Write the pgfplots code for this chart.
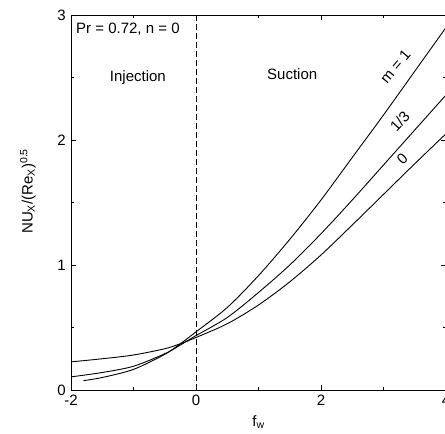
\documentclass[border=0pt]{standalone}
\usepackage{fontspec}
\setmainfont{Liberation Sans}
\usepackage{pgfplots}
\pgfplotsset{compat=1.18}
\newcommand\bigf{\fontsize{15}{18}\selectfont}

% Nu_x/(Re_x)^0.5 against f_w
\pgfplotstableread{
x     y
-1.8  0.075
-1.5  0.100
-1.0  0.165
-0.5  0.285
-0.25 0.370
0.0   0.465
0.5   0.660
1.0   0.915
1.5   1.205
2.0   1.520
2.5   1.860
3.0   2.200
3.5   2.550
4.0   2.900
}\mone
\pgfplotstableread{
x     y
-2.0  0.105
-1.5  0.140
-1.0  0.190
-0.5  0.290
-0.25 0.360
0.0   0.435
0.5   0.580
1.0   0.780
1.5   1.000
2.0   1.250
2.5   1.520
3.0   1.800
3.5   2.080
4.0   2.360
}\mthird
\pgfplotstableread{
x     y
-2.0  0.225
-1.5  0.250
-1.0  0.280
-0.5  0.330
-0.25 0.370
0.0   0.420
0.5   0.530
1.0   0.680
1.5   0.865
2.0   1.080
2.5   1.320
3.0   1.565
3.5   1.810
4.0   2.050
}\mzero

\begin{document}
\bigf
\begin{tikzpicture}[font=\bigf]
\begin{axis}[
    at={(0pt,0pt)}, anchor=south west,
    scale only axis,
    width=375pt, height=375pt,
    xmin=-2, xmax=4, ymin=0, ymax=3,
    xtick={-2,0,2,4}, ytick={0,1,2,3},
    minor xtick={-1,1,3}, minor ytick={0.5,1.5,2.5},
    tick align=inside,
    major tick length=5pt, minor tick length=3pt,
    tick style={black, line width=0.8pt},
    axis line style={line width=0.8pt},
    font=\bigf,
    /pgf/number format/assume math mode=true,
    every tick label/.append style={font=\bigf},
    every axis label/.append style={font=\bigf},
    xlabel={f\textsubscript{w}},
    ylabel={NU\textsubscript{X}/(Re\textsubscript{X})\textsuperscript{0.5}},
    ylabel style={at={(axis description cs:-0.08,0.53)}, anchor=south},
    xlabel style={at={(axis description cs:0.5,-0.055)}, anchor=north},
    every axis plot/.append style={black, line width=0.9pt},
]
\addplot[smooth] table {\mone};
\addplot[smooth] table {\mthird};
\addplot[smooth] table {\mzero};
\addplot[line width=0.8pt, dash pattern=on 6pt off 3pt] coordinates {(0,0) (0,3)};

\node[anchor=north west, inner sep=0pt] at (axis cs:-1.92,2.94) {Pr = 0.72, n = 0};
\node[anchor=base, inner sep=0pt] at (axis cs:-0.93,2.47) {Injection};
\node[anchor=base, inner sep=0pt] at (axis cs:1.54,2.486) {Suction};
\node[rotate=50, inner sep=0pt] at (axis cs:3.19,2.59) {m = 1};
\node[rotate=47, inner sep=0pt] at (axis cs:3.26,2.15) {1/3};
\node[rotate=44, inner sep=0pt] at (axis cs:3.30,1.85) {0};
\end{axis}
\pgfresetboundingbox
\useasboundingbox (-71pt,-44pt) rectangle (374pt,390pt);
\end{tikzpicture}
\end{document}
